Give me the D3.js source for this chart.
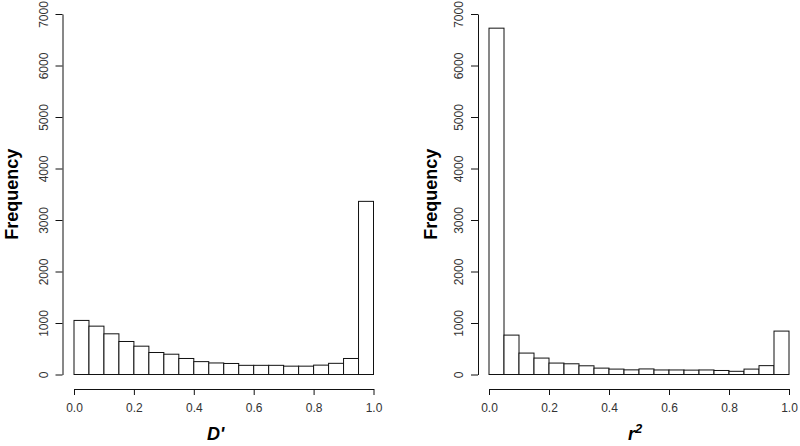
<!DOCTYPE html>
<html lang="en">
<head>
  <title>D' and r2 histograms</title>
  <script src="https://d3js.org/d3.v7.min.js" charset="utf-8"></script>
  <style>
    body { margin: 0; background: #fff; }
    svg { display: block; font-family: "Liberation Sans", Arial, sans-serif; }
  </style>
</head>
<body>
  <script>
    // histogram bins (breaks of width 0.05)
    var binEdges = [0, 0.05, 0.1, 0.15, 0.2, 0.25, 0.3, 0.35, 0.4, 0.45, 0.5,
                    0.55, 0.6, 0.65, 0.7, 0.75, 0.8, 0.85, 0.9, 0.95, 1.0];

    // counts
    var dPrimeCounts = [1050, 939, 790, 641, 550, 427, 394, 311, 250, 224,
                        214, 178, 178, 178, 162, 162, 182, 217, 311, 3362];
    var r2Counts = [6725, 765, 416, 319, 222, 208, 169, 124, 105, 90,
                    108, 88, 88, 85, 88, 78, 62, 105, 172, 843];

    var xTicks = [0, 0.2, 0.4, 0.6, 0.8, 1.0];
    var yTicks = [0, 1000, 2000, 3000, 4000, 5000, 6000, 7000];

    var w = 800;
    var h = 446;

    var svg = d3.select("body")
      .append("svg")
      .attr("width", w)
      .attr("height", h);

    // one entry per panel: where the plot region sits and where the labels go
    var panels = [
      {counts: dPrimeCounts, x0: 74, x1: 373.5, axisX: 62.5, tickLab: 19, ylab: 51, xlab: "D'", xshift: -8, sup: null},
      {counts: r2Counts, x0: 489, x1: 789, axisX: 478, tickLab: 19, ylab: 47, xlab: "r", xshift: -4, sup: "2"}
    ];

    var y = d3.scaleLinear().domain([0, 7000]).range([374.5, 14]);

    panels.forEach(function(p) {
      var x = d3.scaleLinear().domain([0, 1]).range([p.x0, p.x1]);
      var g = svg.append("g");

      // bars
      var bins = p.counts.map(function(c, i) {
        return {lo: binEdges[i], hi: binEdges[i + 1], n: c};
      });
      g.selectAll("rect")
        .data(bins)
        .enter()
        .append("rect")
        .attr("x", function(d) { return x(d.lo); })
        .attr("y", function(d) { return y(d.n); })
        .attr("width", function(d) { return x(d.hi) - x(d.lo); })
        .attr("height", function(d) { return y(0) - y(d.n); })
        .attr("fill", "white")
        .attr("stroke", "#111")
        .attr("stroke-width", 1);

      // y axis, R style: vertical tick labels
      var yAxis = g.append("g")
        .attr("transform", "translate(" + p.axisX + ",0)")
        .call(d3.axisLeft(y).tickValues(yTicks).tickSizeInner(7).tickSizeOuter(0).tickFormat(d3.format("d")));
      yAxis.select(".domain").attr("stroke", "#111");
      yAxis.selectAll(".tick line").attr("stroke", "#111");
      yAxis.selectAll(".tick text")
        .attr("transform", "rotate(-90)")
        .attr("x", 0)
        .attr("y", -p.tickLab)
        .attr("dy", "0.35em")
        .attr("text-anchor", "middle")
        .attr("font-size", 12)
        .attr("font-family", "Liberation Sans, Arial, sans-serif")
        .attr("fill", "#333");

      // x axis, detached below the bars
      var xAxis = g.append("g")
        .attr("transform", "translate(0,389)")
        .call(d3.axisBottom(x).tickValues(xTicks).tickSizeInner(6).tickSizeOuter(0).tickFormat(d3.format(".1f")));
      xAxis.select(".domain").attr("stroke", "#111");
      xAxis.selectAll(".tick line").attr("stroke", "#111");
      xAxis.selectAll(".tick text")
        .attr("y", 14)
        .attr("dy", "0.71em")
        .attr("font-size", 12)
        .attr("font-family", "Liberation Sans, Arial, sans-serif")
        .attr("fill", "#333");

      // y label
      g.append("text")
        .attr("transform", "translate(" + (p.axisX - p.ylab) + "," + y(3500) + ") rotate(-90)")
        .attr("text-anchor", "middle")
        .attr("dy", "0.35em")
        .attr("font-size", 18)
        .attr("font-weight", "bold")
        .text("Frequency");

      // x label
      var xl = g.append("text")
        .attr("x", (p.x0 + p.x1) / 2 + p.xshift)
        .attr("y", 440)
        .attr("text-anchor", "middle")
        .attr("font-size", 18)
        .attr("font-weight", "bold")
        .attr("font-style", "italic")
        .text(p.xlab);
      if (p.sup) {
        xl.append("tspan")
          .attr("dy", -7)
          .attr("font-size", 13)
          .text(p.sup);
      }
    });
  </script>
</body>
</html>
